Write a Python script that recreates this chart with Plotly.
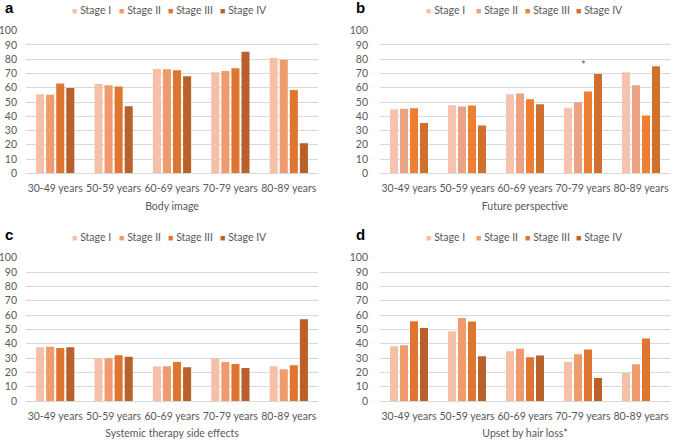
import plotly.graph_objects as go
from plotly.subplots import make_subplots

age_groups = ["30-49 years", "50-59 years", "60-69 years", "70-79 years", "80-89 years"]
stages = ["Stage I", "Stage II", "Stage III", "Stage IV"]
y_ticks = [0, 10, 20, 30, 40, 50, 60, 70, 80, 90, 100]

# a: Body image
body_I = [55.5, 62.7, 73.2, 70.9, 80.9]
body_II = [55.0, 61.8, 73.0, 71.8, 79.7]
body_III = [62.9, 60.8, 72.3, 73.7, 58.5]
body_IV = [59.9, 47.0, 68.0, 85.3, 21.0]

# b: Future perspective
future_I = [45.0, 47.8, 55.5, 45.9, 70.9]
future_II = [45.2, 46.9, 56.0, 49.9, 61.8]
future_III = [45.7, 47.6, 52.0, 57.3, 40.6]
future_IV = [35.2, 33.6, 48.5, 69.7, 75.1]

# c: Systemic therapy side effects
side_I = [37.5, 29.8, 24.0, 29.8, 24.2]
side_II = [37.8, 29.8, 24.2, 27.3, 22.1]
side_III = [37.0, 31.9, 27.3, 25.9, 24.9]
side_IV = [37.5, 30.8, 23.5, 23.0, 57.1]

# d: Upset by hair loss
hair_I = [38.2, 48.7, 34.7, 27.3, 19.6]
hair_II = [38.9, 58.0, 36.4, 32.6, 25.6]
hair_III = [55.7, 55.5, 30.5, 35.9, 43.6]
hair_IV = [51.0, 31.2, 31.7, 16.1, None]

panel_titles = ["Body image", "Future perspective", "Systemic therapy side effects", "Upset by hair loss*"]
panel_letters = ["a", "b", "c", "d"]

colors_main = ["#F5C0A8", "#EF9B6E", "#DE7631", "#B8612A"]
colors_b = ["#F6C4AE", "#EBA384", "#EE7E32", "#D0702D"]

panels = [
    (1, 1, [body_I, body_II, body_III, body_IV], colors_main),
    (1, 2, [future_I, future_II, future_III, future_IV], colors_b),
    (2, 1, [side_I, side_II, side_III, side_IV], colors_main),
    (2, 2, [hair_I, hair_II, hair_III, hair_IV], colors_main),
]

W, H = 674, 441
FONT = "Lato"
GRAY = "#595959"
GRID = "#D9D9D9"
FS = 10.5

fig = make_subplots(rows=2, cols=2)

for idx, (r, c, series, cols) in enumerate(panels):
    for s, vals, col in zip(stages, series, cols):
        fig.add_trace(go.Bar(x=age_groups, y=vals, name=s, marker=dict(color=col, line=dict(width=0)),
                             legendgroup=s, showlegend=False), row=r, col=c)

# domains in pixels
x_dom = [(26, 318), (380, 670)]
y_dom = [(30.7, 173.3), (257.7, 401.0)]

axis_names = [("xaxis", "yaxis"), ("xaxis2", "yaxis2"), ("xaxis3", "yaxis3"), ("xaxis4", "yaxis4")]
for idx, (xa, ya) in enumerate(axis_names):
    r, c = divmod(idx, 2)
    x0, x1 = x_dom[c]
    yt, yb = y_dom[r]
    fig.layout[xa].update(
        domain=[x0 / W, x1 / W], showline=True, linecolor=GRID, linewidth=1, ticks="",
        tickfont=dict(family=FONT, size=FS, color=GRAY), showgrid=False, tickangle=0,
        automargin=False, ticklabelstandoff=5,
        title=dict(text=panel_titles[idx], font=dict(family=FONT, size=FS, color=GRAY), standoff=9),
    )
    fig.layout[ya].update(
        domain=[1 - yb / H, 1 - yt / H], range=[0, 100], tickvals=y_ticks, showgrid=True,
        gridcolor=GRID, gridwidth=1, zeroline=False, showline=False, ticks="",
        tickfont=dict(family=FONT, size=FS, color=GRAY), automargin=False,
        ticklabelstandoff=8 if c == 0 else 11,
    )

# legends (one per panel), drawn as coloured squares + stage names
legend_x = [[70, 117, 166, 218], [424, 474, 523, 574]]
legend_y = [10, 237]
panel_cols = [colors_main, colors_b, colors_main, colors_main]
for idx in range(4):
    r, c = divmod(idx, 2)
    for s, col, lx in zip(stages, panel_cols[idx], legend_x[c]):
        fig.add_annotation(
            text=f'<span style="color:{col};font-size:9px">■</span> {s}',
            x=lx / W, y=1 - legend_y[r] / H, xref="paper", yref="paper",
            xanchor="left", yanchor="middle", showarrow=False,
            font=dict(family=FONT, size=FS, color=GRAY))

letter_pos = [(3, 8), (354, 8), (3, 234), (354, 234)]
for (lx, ly), letter in zip(letter_pos, panel_letters):
    fig.add_annotation(text=f"<b>{letter}</b>", x=lx / W, y=1 - ly / H, xref="paper", yref="paper",
                       xanchor="left", yanchor="middle", showarrow=False,
                       font=dict(family="Liberation Sans", size=15, color="#000000"))

# significance marker in panel b
fig.add_annotation(text="*", x="70-79 years", y=76, xref="x2", yref="y2", showarrow=False,
                   font=dict(family=FONT, size=11, color=GRAY), yanchor="middle")

fig.update_layout(
    width=W, height=H, margin=dict(l=0, r=0, t=0, b=0),
    barmode="group", bargap=0.31, bargroupgap=0.2,
    plot_bgcolor="white", paper_bgcolor="white", showlegend=False,
    font=dict(family=FONT, color=GRAY),
)

fig.write_html("out.html", config={"displayModeBar": False},
               post_script="document.body.style.margin='0';document.body.style.overflow='hidden';")
